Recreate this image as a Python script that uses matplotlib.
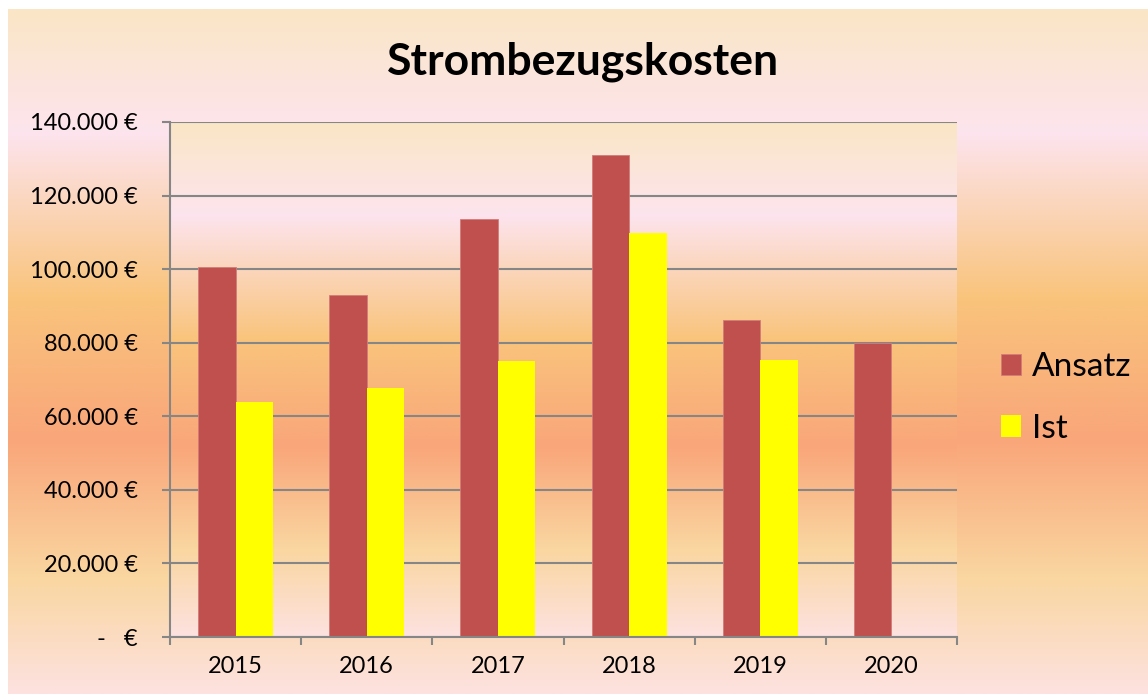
import matplotlib
matplotlib.use('Agg')
import matplotlib.pyplot as plt
from matplotlib.colors import LinearSegmentedColormap
from matplotlib.ticker import FuncFormatter
import numpy as np

# data
years = ['2015', '2016', '2017', '2018', '2019', '2020']
ansatz = [100600, 93000, 113600, 131000, 86200, 79900]
ist = [63900, 67700, 75000, 109800, 75300, 0]

plt.rcParams['font.family'] = ['Lato', 'DejaVu Sans']

# "early sunset" like gradient used for chart and plot area
stops = [(0.0, '#fae6c6'), (0.18, '#fde4ee'), (0.42, '#f9c47c'),
         (0.63, '#f9a67a'), (0.83, '#fad6a0'), (1.0, '#fde2e0')]
grad = LinearSegmentedColormap.from_list('sunset', stops)
g = np.linspace(0, 1, 256).reshape(-1, 1)

fig = plt.figure(figsize=(11.48, 6.94), dpi=100, facecolor='white')

# chart background
bg = fig.add_axes([8/1148, 0, 1 - 8/1148, 1 - 9/694])
bg.imshow(g, cmap=grad, aspect='auto', extent=[0, 1, 0, 1], origin='upper')
bg.set_axis_off()

ax = fig.add_axes([170/1148, 57/694, 787/1148, 515/694])
ax.imshow(g, cmap=grad, aspect='auto', extent=[-0.5, 5.5, 0, 140000],
          origin='upper', zorder=0)

x = np.arange(len(years))
w = 1/3.5
ax.bar(x - w/2, ansatz, w, color='#c0504d', edgecolor='#d27c79',
       linewidth=0.6, label='Ansatz', zorder=3)
ax.bar(x + w/2, ist, w, color='#ffff00', label='Ist', zorder=3)

ax.set_xlim(-0.5, 5.5)
ax.set_ylim(0, 140000)
ax.set_yticks(np.arange(0, 140001, 20000))
ax.yaxis.set_major_formatter(FuncFormatter(
    lambda v, p: '-   €' if v == 0 else f'{int(v):,} €'.replace(',', '.')))
ax.set_xticks(x)
ax.set_xticklabels(years)
ax.set_xticks(np.arange(-0.5, 5.6, 1), minor=True)

ax.grid(axis='y', color='#868686', linewidth=1.5, zorder=1)
ax.set_axisbelow(True)
for s in ['top', 'right']:
    ax.spines[s].set_visible(False)
for s in ['left', 'bottom']:
    ax.spines[s].set_color('#868686')
    ax.spines[s].set_linewidth(1.5)
    ax.spines[s].set_zorder(4)

ax.tick_params(axis='y', length=6, width=1.5, color='#868686',
               labelsize=17, pad=17)
ax.tick_params(axis='x', which='major', length=0, labelsize=17, pad=14)
ax.tick_params(axis='x', which='minor', length=6, width=1.5, color='#868686')

fig.text(583/1148, 1 - 62/694, 'Strombezugskosten', ha='center', va='center',
         fontsize=32, fontweight='bold')

fig.legend(loc='center left', bbox_to_anchor=(1001/1148, 1 - 398/694),
           frameon=False, fontsize=24, handlelength=0.6, handleheight=0.6,
           handletextpad=0.33, labelspacing=0.95, borderpad=0, borderaxespad=0)

fig.savefig('out.png', dpi=100, facecolor='white')
